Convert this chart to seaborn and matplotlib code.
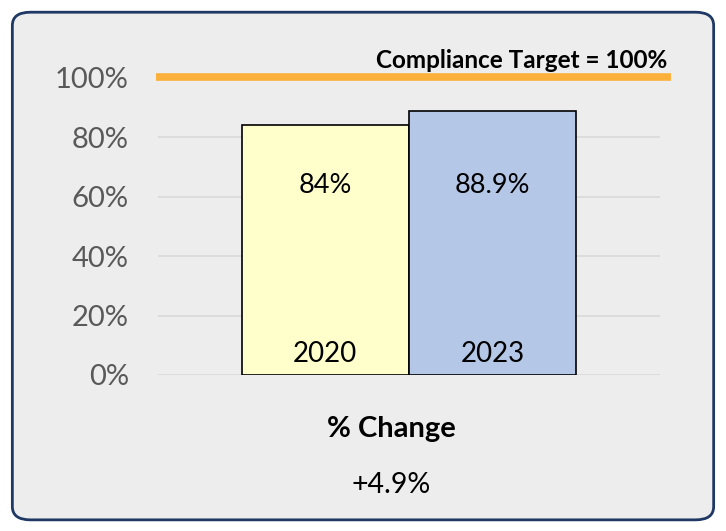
import matplotlib
matplotlib.use("Agg")
import matplotlib.pyplot as plt
from matplotlib.patches import FancyBboxPatch
from matplotlib.ticker import FuncFormatter
import seaborn as sns
import pandas as pd

# ── Data ──────────────────────────────────────────────
YEARS = ["2020", "2023"]
COMPLIANCE = [84, 88.9]
TARGET = 100
TARGET_LABEL = "Compliance Target = 100%"
Y_TICKS = [0, 20, 40, 60, 80, 100]
BAR_COLORS = ["#FFFFCC", "#B4C7E7"]
# ──────────────────────────────────────────────────────

df = pd.DataFrame({"group": ["all"] * len(YEARS), "year": YEARS, "pct": COMPLIANCE})
change = COMPLIANCE[-1] - COMPLIANCE[0]

sns.set_style("white")
plt.rcParams["font.family"] = ["Lato", "DejaVu Sans"]
plt.rcParams["text.color"] = "black"

fig = plt.figure(figsize=(7.26, 5.31), dpi=100)
fig.patch.set_facecolor("white")

# rounded panel behind everything
panel = FancyBboxPatch((0.017, 0.021), 0.966, 0.956,
                       boxstyle="round,pad=0,rounding_size=0.025",
                       transform=fig.transFigure, facecolor="#EDEDED",
                       edgecolor="#1F3864", linewidth=2, zorder=-5)
fig.patches.append(panel)

ax = fig.add_axes([0.2176, 0.2938, 0.6915, 0.588])
ax.set_facecolor("none")
ax.set_zorder(2)

sns.barplot(data=df, x="group", y="pct", hue="year", palette=BAR_COLORS,
            width=0.667, edgecolor="black", linewidth=1.2, legend=False,
            saturation=1, ax=ax, zorder=3)

ax.set_xlim(-0.5, 0.5)
ax.set_ylim(0, 105)
ax.set_yticks(Y_TICKS)
ax.yaxis.set_major_formatter(FuncFormatter(lambda v, _: f"{v:g}%"))
ax.tick_params(axis="y", length=0, pad=21, labelsize=21, labelcolor="#595959")
ax.set_xticks([])
ax.set_xlabel("")
ax.set_ylabel("")
for s in ax.spines.values():
    s.set_visible(False)
for t in Y_TICKS[:-1]:
    ax.axhline(t, color="#D9D9D9", linewidth=1.2, zorder=1)

# target line
ax.axhline(TARGET + 0.3, xmin=-0.004, xmax=1.022, color="#FBB03B", linewidth=5.5,
           solid_capstyle="butt", clip_on=False, zorder=4)
ax.text(1.014, TARGET + 3.2, TARGET_LABEL, transform=ax.get_yaxis_transform(),
        ha="right", va="baseline", fontsize=17.5, fontweight="bold")

# labels inside bars
for cont, year, val in zip(ax.containers, YEARS, COMPLIANCE):
    bar = cont[0]
    cx = bar.get_x() + bar.get_width() / 2
    ax.text(cx, 61.2, f"{val:g}%", ha="center", va="baseline", fontsize=19.5, zorder=5)
    ax.text(cx, 4.4, year, ha="center", va="baseline", fontsize=20, zorder=5)

fig.text(0.539, 0.177, "% Change", ha="center", va="baseline",
         fontsize=21, fontweight="bold")
fig.text(0.539, 0.0716, f"{change:+.1f}%", ha="center", va="baseline", fontsize=20.5)

fig.savefig("out.png", dpi=100)
